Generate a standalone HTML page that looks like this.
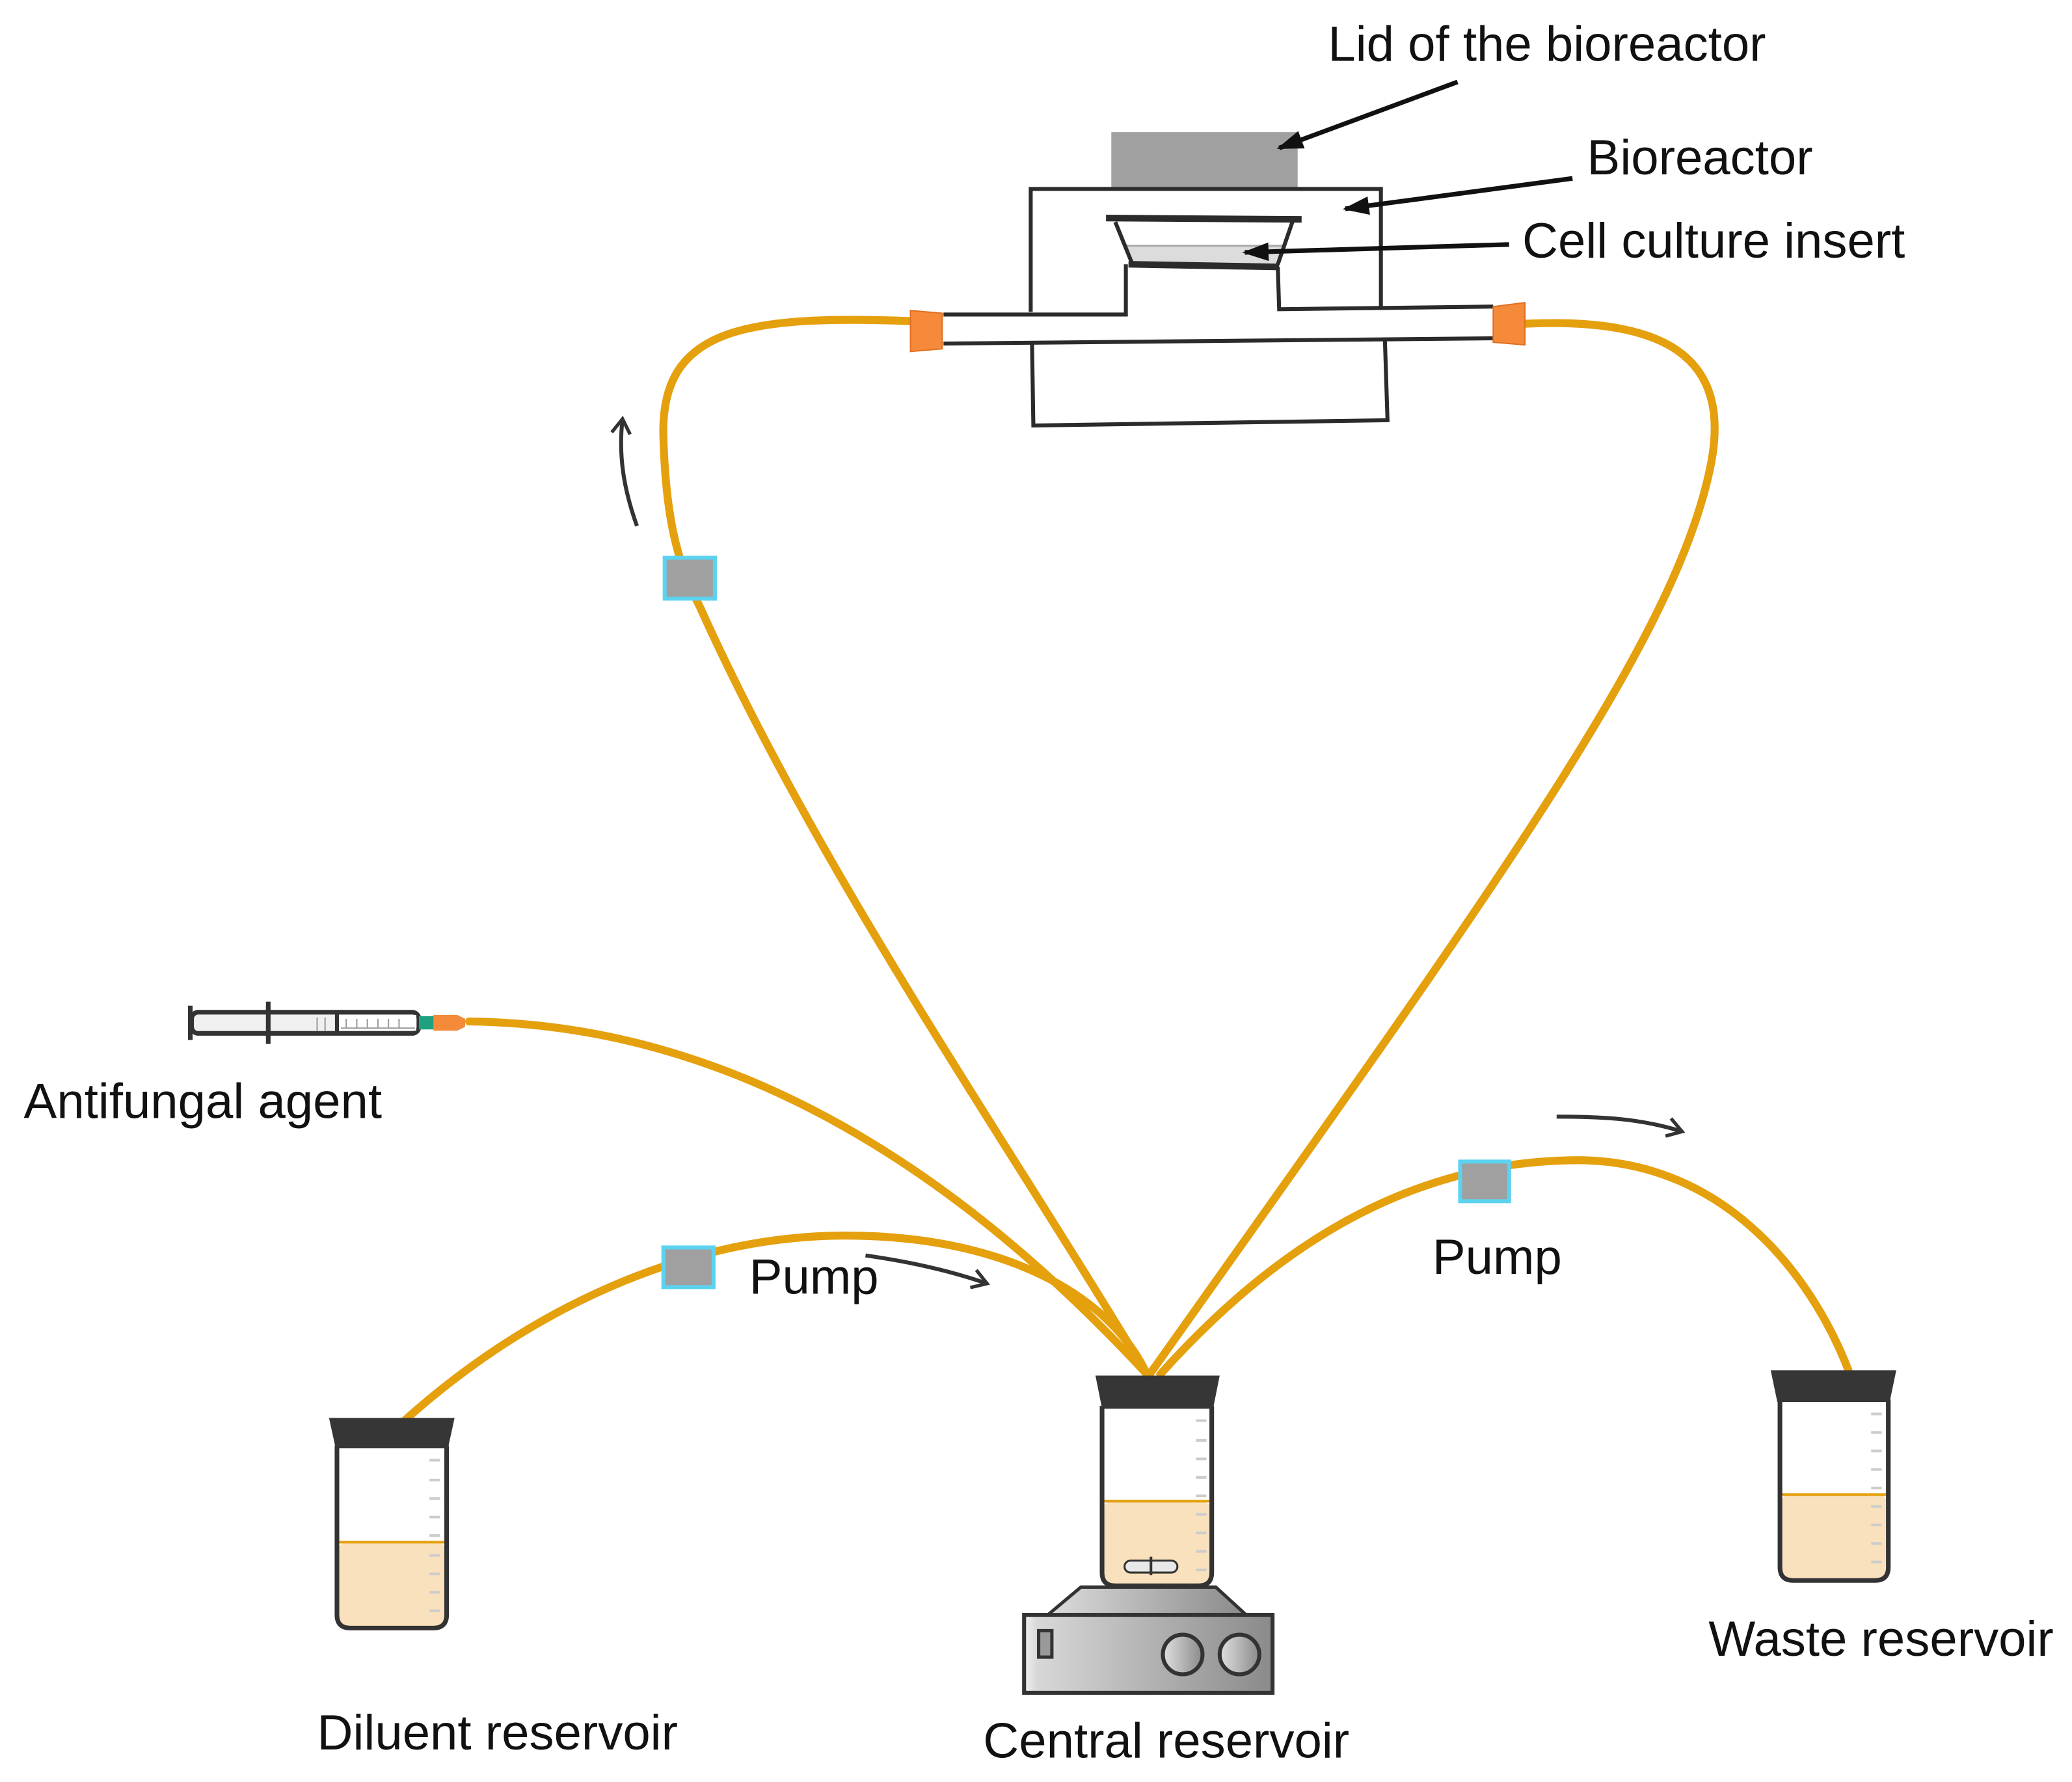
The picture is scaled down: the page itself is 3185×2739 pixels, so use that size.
<!DOCTYPE html>
<html><head><meta charset="utf-8"><style>html,body{margin:0;padding:0;background:#fff}svg{display:block}</style></head>
<body>
<svg width="3185" height="2739" viewBox="0 0 1568 1348.5" preserveAspectRatio="none" xmlns="http://www.w3.org/2000/svg">
<defs>
<marker id="ah" markerWidth="20" markerHeight="14" refX="18" refY="7" orient="auto" markerUnits="userSpaceOnUse"><path d="M0,0 L20,7 L0,14z" fill="#111"/></marker>
<marker id="oa" markerWidth="16" markerHeight="16" refX="12" refY="8" orient="auto" markerUnits="userSpaceOnUse"><path d="M2,1 L13,8 L2,15" fill="none" stroke="#333" stroke-width="2.6"/></marker>
<linearGradient id="steel" x1="0" x2="1"><stop offset="0" stop-color="#f2f2f2"/><stop offset="0.05" stop-color="#d8d8d8"/><stop offset="1" stop-color="#8a8a8a"/></linearGradient>
<linearGradient id="knob" x1="0" x2="1"><stop offset="0" stop-color="#e0e0e0"/><stop offset="1" stop-color="#8a8a8a"/></linearGradient>
</defs>
<g font-family="Liberation Sans, Arial, sans-serif" font-size="37.5" fill="#111">
<text x="1005" y="46">Lid of the bioreactor</text>
<text x="1201" y="132">Bioreactor</text>
<text x="1152" y="195">Cell culture insert</text>
<text x="18" y="846">Antifungal agent</text>
<text x="567" y="979">Pump</text>
<text x="1084" y="964">Pump</text>
<text x="240" y="1324">Diluent reservoir</text>
<text x="744" y="1330">Central reservoir</text>
<text x="1293" y="1253">Waste reservoir</text>
</g>
<rect x="841" y="100" width="141" height="42" fill="#a0a0a0"/>
<g fill="none" stroke="#2b2b2b" stroke-width="3">
<path d="M780,236 V143 H1045 V233"/>
<path d="M714,238 H852 V200"/>
<path d="M967,202 L968,234 L1130,232"/>
<path d="M714,260 L1130,256"/>
<path d="M781,260 L782,322 L1050,318 L1048,256"/>
</g>
<path d="M846,168 L976,168 L967,200 L857,200Z" fill="#fff"/>
<path d="M851,186 L972,186 L967,200 L857,200Z" fill="#dcdcdc"/>
<line x1="851" y1="186" x2="972" y2="186" stroke="#aaa" stroke-width="1.5"/>
<g stroke="#2b2b2b" fill="none"><line x1="837" y1="165" x2="985" y2="166" stroke-width="5"/><line x1="844" y1="168" x2="857" y2="200" stroke-width="3"/><line x1="978" y1="168" x2="967" y2="200" stroke-width="3"/><line x1="854" y1="200" x2="968" y2="202" stroke-width="5"/></g>
<g stroke="#111" stroke-width="3.5" marker-end="url(#ah)">
<line x1="1103" y1="62" x2="968" y2="112"/>
<line x1="1190" y1="135" x2="1018" y2="158"/>
<line x1="1142" y1="185" x2="942" y2="191"/>
</g>
<g fill="none" stroke="#E5A00D" stroke-width="6" stroke-linecap="round">
<path d="M689,243 C560,238 500,250 502,330 C504,400 515,430 530,460 C620,660 760,860 868,1040"/>
<path d="M1154,245 C1260,240 1310,270 1295,350 C1270,480 1140,660 870,1040"/>
<path d="M355,773 C550,775 720,880 868,1040"/>
<path d="M305,1076 C400,990 520,935 640,935 C760,935 840,980 868,1040"/>
<path d="M878,1040 C950,960 1050,880 1190,878 C1300,876 1370,960 1400,1040"/>
</g>
<path d="M689,235 L713,237 L713,264 L689,266Z" fill="#f58a3a" stroke="#e07020" stroke-width="1"/>
<path d="M1130,232 L1154,229 L1154,261 L1130,259Z" fill="#f58a3a" stroke="#e07020" stroke-width="1"/>
<g fill="#a0a0a0" stroke="#5bd3f0" stroke-width="3">
<rect x="503" y="422" width="38" height="31"/>
<rect x="502" y="944" width="38" height="30"/>
<rect x="1105" y="879" width="37" height="30"/>
</g>
<g fill="none" stroke="#333" stroke-width="3" marker-end="url(#oa)">
<path d="M482,398 C472,370 468,345 471,318"/>
<path d="M655,950 C690,955 720,962 746,971"/>
<path d="M1178,845 C1210,845 1240,846 1272,856"/>
</g>
<g>
<rect x="145" y="766" width="172" height="16" rx="5" fill="#f0f0f0" stroke="#333" stroke-width="3.5"/>
<rect x="257" y="768" width="58" height="12" fill="#fff"/>
<line x1="255" y1="765" x2="255" y2="783" stroke="#333" stroke-width="3"/>
<line x1="144" y1="761" x2="144" y2="787" stroke="#333" stroke-width="3.5"/>
<line x1="203" y1="758" x2="203" y2="790" stroke="#333" stroke-width="3.5"/>
<g stroke="#999" stroke-width="1"><line x1="258" y1="778" x2="314" y2="778"/><line x1="262" y1="771" x2="262" y2="778"/><line x1="270" y1="771" x2="270" y2="778"/><line x1="278" y1="771" x2="278" y2="778"/><line x1="286" y1="771" x2="286" y2="778"/><line x1="294" y1="771" x2="294" y2="778"/><line x1="302" y1="771" x2="302" y2="778"/><line x1="240" y1="770" x2="240" y2="780"/><line x1="246" y1="770" x2="246" y2="780"/></g>
<rect x="317" y="769" width="12" height="10" fill="#1fa080"/>
<path d="M328,768 L346,768 L352,771 L352,777 L346,780 L328,780Z" fill="#f58a3a"/>
</g>
<rect x="255" y="1167" width="83" height="65" rx="8" fill="#f9e1bd"/>
<line x1="255" y1="1167" x2="338" y2="1167" stroke="#E5A00D" stroke-width="2"/>
<path d="M255,1094 V1222 Q255,1232 265,1232 H328 Q338,1232 338,1222 V1094" fill="none" stroke="#333" stroke-width="3.5"/>
<path d="M249,1073 H344 L339,1096 H254Z" fill="#363636"/>
<g stroke="#ccc" stroke-width="2"><line x1="325" y1="1105" x2="333" y2="1105"/><line x1="325" y1="1120" x2="333" y2="1120"/><line x1="325" y1="1134" x2="333" y2="1134"/><line x1="325" y1="1148" x2="333" y2="1148"/><line x1="325" y1="1162" x2="333" y2="1162"/><line x1="325" y1="1177" x2="333" y2="1177"/><line x1="325" y1="1191" x2="333" y2="1191"/><line x1="325" y1="1205" x2="333" y2="1205"/><line x1="325" y1="1219" x2="333" y2="1219"/></g>
<rect x="834" y="1136" width="83" height="64" rx="8" fill="#f9e1bd"/>
<line x1="834" y1="1136" x2="917" y2="1136" stroke="#E5A00D" stroke-width="2"/>
<path d="M834,1064 V1190 Q834,1200 844,1200 H907 Q917,1200 917,1190 V1064" fill="none" stroke="#333" stroke-width="3.5"/>
<path d="M829,1041 H923 L918,1066 H834Z" fill="#363636"/>
<g stroke="#ccc" stroke-width="2"><line x1="905" y1="1075" x2="913" y2="1075"/><line x1="905" y1="1090" x2="913" y2="1090"/><line x1="905" y1="1104" x2="913" y2="1104"/><line x1="905" y1="1118" x2="913" y2="1118"/><line x1="905" y1="1132" x2="913" y2="1132"/><line x1="905" y1="1146" x2="913" y2="1146"/><line x1="905" y1="1160" x2="913" y2="1160"/><line x1="905" y1="1174" x2="913" y2="1174"/><line x1="905" y1="1188" x2="913" y2="1188"/></g>
<rect x="851" y="1181" width="40" height="9" rx="4.5" fill="#e8e8e8" stroke="#333" stroke-width="1.5"/>
<line x1="871" y1="1178" x2="871" y2="1192" stroke="#333" stroke-width="2"/>
<path d="M818,1201 H920 L943,1222 H793Z" fill="url(#steel)" stroke="#333" stroke-width="2.5"/>
<rect x="775" y="1222" width="188" height="59" fill="url(#steel)" stroke="#333" stroke-width="3"/>
<rect x="786" y="1234" width="10" height="20" fill="#999" stroke="#333" stroke-width="2.5"/>
<circle cx="895" cy="1252" r="15" fill="url(#knob)" stroke="#333" stroke-width="3"/>
<circle cx="938" cy="1252" r="15" fill="url(#knob)" stroke="#333" stroke-width="3"/>
<rect x="1347" y="1131" width="82" height="65" rx="8" fill="#f9e1bd"/>
<line x1="1347" y1="1131" x2="1429" y2="1131" stroke="#E5A00D" stroke-width="2"/>
<path d="M1347,1059 V1186 Q1347,1196 1357,1196 H1419 Q1429,1196 1429,1186 V1059" fill="none" stroke="#333" stroke-width="3.5"/>
<path d="M1340,1037 H1435 L1430,1061 H1345Z" fill="#363636"/>
<g stroke="#ccc" stroke-width="2"><line x1="1416" y1="1070" x2="1424" y2="1070"/><line x1="1416" y1="1084" x2="1424" y2="1084"/><line x1="1416" y1="1098" x2="1424" y2="1098"/><line x1="1416" y1="1112" x2="1424" y2="1112"/><line x1="1416" y1="1126" x2="1424" y2="1126"/><line x1="1416" y1="1140" x2="1424" y2="1140"/><line x1="1416" y1="1154" x2="1424" y2="1154"/><line x1="1416" y1="1168" x2="1424" y2="1168"/><line x1="1416" y1="1182" x2="1424" y2="1182"/></g>
</svg>
</body></html>
